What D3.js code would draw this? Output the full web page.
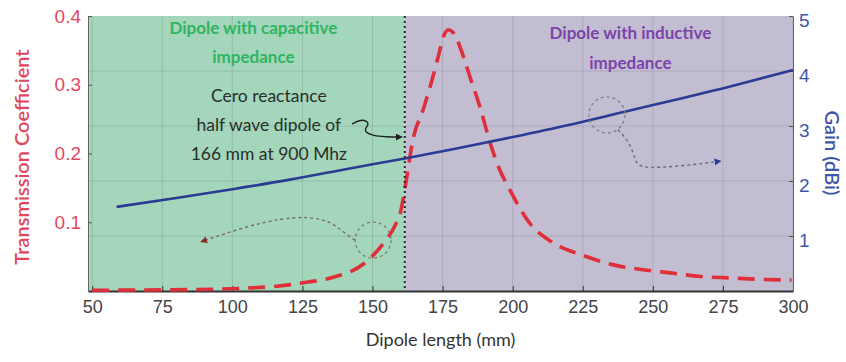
<!DOCTYPE html>
<html>
<head>
<meta charset="utf-8">
<script src="https://cdn.jsdelivr.net/npm/d3@7"></script>
<style>
  body { margin: 0; background: #fff; }
  svg { display: block; font-family: Lato, "Open Sans", sans-serif; }
</style>
</head>
<body>
<svg id="chart" width="846" height="362"></svg>
<script>
// dipole length (mm) vs transmission coefficient
const lengthT = [50, 70, 85, 104, 116, 127, 136, 147, 154, 158, 160, 162, 164.4, 168, 171.5, 173.5, 175.5, 177, 178.5, 180, 182.5, 184.8, 188.3, 192, 195, 199, 206, 214, 225, 236, 246.5, 257, 267, 277.5, 288, 299.5];
const transCoef = [0.001, 0.0015, 0.002, 0.004, 0.007, 0.013, 0.02, 0.04, 0.07, 0.095, 0.115, 0.16, 0.22, 0.263, 0.311, 0.342, 0.372, 0.38, 0.377, 0.367, 0.34, 0.311, 0.268, 0.215, 0.18, 0.147, 0.099, 0.071, 0.052, 0.038, 0.031, 0.026, 0.021, 0.019, 0.017, 0.016];
// dipole length (mm) vs gain (dBi)
const lengthG = [58.7, 80, 100, 120, 140, 161.5, 180, 200, 220, 240, 260, 280, 300];
const gainDbi = [1.53, 1.69, 1.85, 2.02, 2.21, 2.41, 2.59, 2.80, 3.02, 3.26, 3.50, 3.75, 4.02];

const xTicks = [50, 75, 100, 125, 150, 175, 200, 225, 250, 275, 300];
const tTicks = [0.1, 0.2, 0.3, 0.4];
const gTicks = [1, 2, 3, 4, 5];
const resonance = 161.5; // boundary capacitive / inductive

const svg = d3.select('#chart');
const pLeft = 88, pRight = 793, pTop = 16, pBottom = 291;

const x = d3.scaleLinear().domain([48.5, 300]).range([pLeft, pRight]);
const yT = d3.scaleLinear().domain([0, 0.4]).range([pBottom, pTop]);
const yG = d3.scaleLinear().domain([0, 5]).range([pBottom, pTop]);

const defs = svg.append('defs');
function marker(id, color) {
  defs.append('marker')
    .attr('id', id)
    .attr('viewBox', '0 0 10 10')
    .attr('refX', 8).attr('refY', 5)
    .attr('markerWidth', 5).attr('markerHeight', 5)
    .attr('orient', 'auto')
    .append('path')
    .attr('d', 'M0,0 L10,5 L0,10 z')
    .attr('fill', color);
}
marker('arrBlack', '#222');
marker('arrRed', '#8a2a22');
marker('arrBlue', '#2b3a9a');

// regions
svg.append('rect')
  .attr('x', x(48.5)).attr('y', pTop)
  .attr('width', x(resonance) - x(48.5)).attr('height', pBottom - pTop)
  .attr('fill', '#a3d6bb');
svg.append('rect')
  .attr('x', x(resonance)).attr('y', pTop)
  .attr('width', x(300) - x(resonance)).attr('height', pBottom - pTop)
  .attr('fill', '#c3bdd2');

// grid
svg.append('g').selectAll('line').data(xTicks).enter().append('line')
  .attr('x1', d => x(d)).attr('x2', d => x(d))
  .attr('y1', pTop).attr('y2', pBottom)
  .attr('stroke', 'rgba(70,70,90,0.16)').attr('stroke-width', 1);
svg.append('g').selectAll('line').data(gTicks.slice(0, 4)).enter().append('line')
  .attr('x1', pLeft).attr('x2', pRight)
  .attr('y1', d => yG(d)).attr('y2', d => yG(d))
  .attr('stroke', 'rgba(70,70,90,0.16)').attr('stroke-width', 1);

// axes
const xAxis = svg.append('g')
  .attr('transform', 'translate(0,' + pBottom + ')')
  .call(d3.axisBottom(x).tickValues(xTicks).tickSizeInner(-5).tickSizeOuter(0).tickPadding(9));
xAxis.select('.domain').attr('stroke', '#333').attr('stroke-width', 2);
xAxis.selectAll('.tick line').attr('stroke', '#333');
xAxis.selectAll('text').attr('fill', '#444').style('font-size', '18px');

const lAxis = svg.append('g')
  .attr('transform', 'translate(' + pLeft + ',0)')
  .call(d3.axisLeft(yT).tickValues(tTicks).tickFormat(d3.format('.1f'))
    .tickSizeInner(-4).tickSizeOuter(0).tickPadding(7));
lAxis.select('.domain').attr('stroke', '#666');
lAxis.selectAll('.tick line').attr('stroke', '#555');
lAxis.selectAll('text').attr('fill', '#e2475e').style('font-size', '19px');

const rAxis = svg.append('g')
  .attr('transform', 'translate(' + pRight + ',0)')
  .call(d3.axisRight(yG).tickValues(gTicks).tickFormat(d3.format('d'))
    .tickSizeInner(-4).tickSizeOuter(0).tickPadding(6));
rAxis.select('.domain').attr('stroke', '#666');
rAxis.selectAll('.tick line').attr('stroke', '#555');
rAxis.selectAll('text').attr('fill', '#3d57a8').style('font-size', '19px').attr('dy', '0.55em');

// axis titles
svg.append('text')
  .attr('x', (pLeft + pRight) / 2).attr('y', 346)
  .attr('text-anchor', 'middle').attr('fill', '#333').style('font-size', '18px')
  .text('Dipole length (mm)');
svg.append('text')
  .attr('transform', 'translate(29,' + 157 + ') rotate(-90)')
  .attr('text-anchor', 'middle').attr('fill', '#e0465c')
  .style('font-size', '20px').style('font-weight', 600)
  .text('Transmission Coefficient');
svg.append('text')
  .attr('transform', 'translate(825,' + 153 + ') rotate(90)')
  .attr('text-anchor', 'middle').attr('fill', '#3d57a8')
  .style('font-size', '20px').style('font-weight', 600)
  .text('Gain (dBi)');

// data lines
const tLine = d3.line()
  .x((d, i) => x(lengthT[i]))
  .y(d => yT(d))
  .curve(d3.curveMonotoneX);
svg.append('path')
  .datum(transCoef)
  .attr('d', tLine)
  .attr('fill', 'none')
  .attr('stroke', '#de2f3a')
  .attr('stroke-width', 3.6)
  .attr('stroke-dasharray', '17,9');

const gLine = d3.line()
  .x((d, i) => x(lengthG[i]))
  .y(d => yG(d))
  .curve(d3.curveMonotoneX);
svg.append('path')
  .datum(gainDbi)
  .attr('d', gLine)
  .attr('fill', 'none')
  .attr('stroke', '#2b3a92')
  .attr('stroke-width', 2.6);

// resonance line
svg.append('line')
  .attr('x1', x(resonance)).attr('x2', x(resonance))
  .attr('y1', pTop).attr('y2', pBottom)
  .attr('stroke', '#2a2a2a').attr('stroke-width', 2)
  .attr('stroke-dasharray', '2,3');

// region labels
function label(lines, cx, ys, color, weight, size) {
  const t = svg.append('text')
    .attr('text-anchor', 'middle').attr('fill', color)
    .style('font-size', size + 'px').style('font-weight', weight);
  lines.forEach((s, i) => {
    t.append('tspan').attr('x', cx).attr('y', ys[i]).text(s);
  });
}
label(['Dipole with capacitive', 'impedance'], x(107.5), [34, 63], '#2fb561', 700, 17);
label(['Dipole with inductive', 'impedance'], x(242), [39, 69], '#7c44ab', 700, 17);
label(['Cero reactance', 'half wave dipole of', '166 mm at 900 Mhz'], x(113), [102, 131, 160], '#2a2f2a', 400, 17.5);

// annotation arrows (dashed circles + curved arrows)
const ann = d3.line().x(d => x(d[0])).y(d => d[2] === 'g' ? yG(d[1]) : yT(d[1])).curve(d3.curveBasis);

svg.append('path')
  .attr('d', ann([[142.7, 0.243], [146.5, 0.251], [149.3, 0.243], [146.5, 0.234], [149.5, 0.226], [155, 0.224], [160.3, 0.224]]))
  .attr('fill', 'none').attr('stroke', '#222').attr('stroke-width', 1.4)
  .attr('marker-end', 'url(#arrBlack)');

svg.append('circle')
  .attr('cx', x(150.2)).attr('cy', yT(0.074)).attr('r', 18)
  .attr('fill', 'none').attr('stroke', '#7a7a6a').attr('stroke-width', 1.2)
  .attr('stroke-dasharray', '3,3');
svg.append('path')
  .attr('d', ann([[143.7, 0.074], [139.5, 0.086], [135, 0.101], [128, 0.108], [118, 0.106], [105, 0.094], [89, 0.072]]))
  .attr('fill', 'none').attr('stroke', '#7a6a60').attr('stroke-width', 1.4)
  .attr('stroke-dasharray', '3,3')
  .attr('marker-end', 'url(#arrRed)');

svg.append('circle')
  .attr('cx', x(233.6)).attr('cy', yG(3.2)).attr('r', 18)
  .attr('fill', 'none').attr('stroke', '#7a7a8a').attr('stroke-width', 1.2)
  .attr('stroke-dasharray', '3,3');
svg.append('path')
  .attr('d', ann([[237.6, 2.93, 'g'], [241.3, 2.73, 'g'], [243.3, 2.47, 'g'], [244.2, 2.29, 'g'], [248, 2.23, 'g'], [262, 2.28, 'g'], [274, 2.36, 'g']]))
  .attr('fill', 'none').attr('stroke', '#6a6a8a').attr('stroke-width', 1.4)
  .attr('stroke-dasharray', '3,3')
  .attr('marker-end', 'url(#arrBlue)');
</script>
</body>
</html>
